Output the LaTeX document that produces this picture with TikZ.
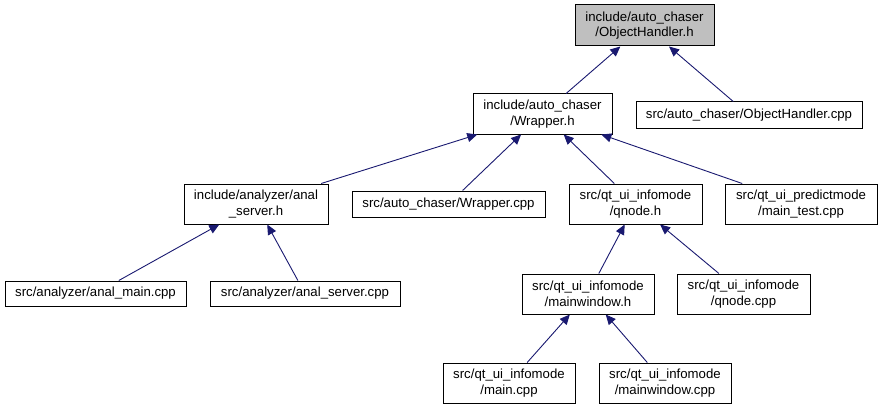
\documentclass[tikz,border=0pt]{standalone}
\usepackage{fontspec}
\setmainfont{Liberation Sans}
\usetikzlibrary{arrows.meta}
\definecolor{edgeblue}{HTML}{191970}
\definecolor{rootgrey}{HTML}{BFBFBF}
\tikzset{
  filebox/.style={draw=black, line width=1pt, fill=white, rectangle, inner sep=0pt, align=center,
    font=\fontsize{13.2}{15.5}\selectfont},
  depedge/.style={draw=edgeblue, line width=0.9pt, -{Triangle[length=10pt,width=9pt]}},
}
\begin{document}
\begin{tikzpicture}[x=1pt,y=-1pt]
\useasboundingbox (0,0) rectangle (882,409);
\node[filebox, fill=rootgrey, minimum width=139pt, minimum height=41pt] (oh) at (644.5,25.5) {include/auto\_chaser\\/ObjectHandler.h};
\node[filebox, minimum width=226pt, minimum height=26pt] (ohc) at (749,115) {src/auto\_chaser/ObjectHandler.cpp};
\node[filebox, minimum width=139pt, minimum height=40pt] (wr) at (542.5,114) {include/auto\_chaser\\/Wrapper.h};
\node[filebox, minimum width=144pt, minimum height=40pt] (as) at (256,204) {include/analyzer/anal\\\_server.h};
\node[filebox, minimum width=193pt, minimum height=26pt] (wc) at (448.5,204) {src/auto\_chaser/Wrapper.cpp};
\node[filebox, minimum width=133pt, minimum height=40pt] (qh) at (635.5,204) {src/qt\_ui\_infomode\\/qnode.h};
\node[filebox, minimum width=152pt, minimum height=40pt] (mt) at (801,204) {src/qt\_ui\_predictmode\\/main\_test.cpp};
\node[filebox, minimum width=181pt, minimum height=25pt] (am) at (95.5,293.5) {src/analyzer/anal\_main.cpp};
\node[filebox, minimum width=190pt, minimum height=25pt] (asc) at (305,293.5) {src/analyzer/anal\_server.cpp};
\node[filebox, minimum width=132pt, minimum height=40pt] (mw) at (588,294) {src/qt\_ui\_infomode\\/mainwindow.h};
\node[filebox, minimum width=133pt, minimum height=40pt] (qc) at (743.5,294) {src/qt\_ui\_infomode\\/qnode.cpp};
\node[filebox, minimum width=132pt, minimum height=40pt] (mc) at (509,383) {src/qt\_ui\_infomode\\/main.cpp};
\node[filebox, minimum width=132pt, minimum height=40pt] (mwc) at (665,383) {src/qt\_ui\_infomode\\/mainwindow.cpp};
\draw[depedge] (wr) -- (oh);
\draw[depedge] (ohc) -- (oh);
\draw[depedge] (as) -- (wr);
\draw[depedge] (wc) -- (wr);
\draw[depedge] (qh) -- (wr);
\draw[depedge] (mt) -- (wr);
\draw[depedge] (am) -- (as);
\draw[depedge] (asc) -- (as);
\draw[depedge] (mw) -- (qh);
\draw[depedge] (qc) -- (qh);
\draw[depedge] (mc) -- (mw);
\draw[depedge] (mwc) -- (mw);
\end{tikzpicture}
\end{document}
